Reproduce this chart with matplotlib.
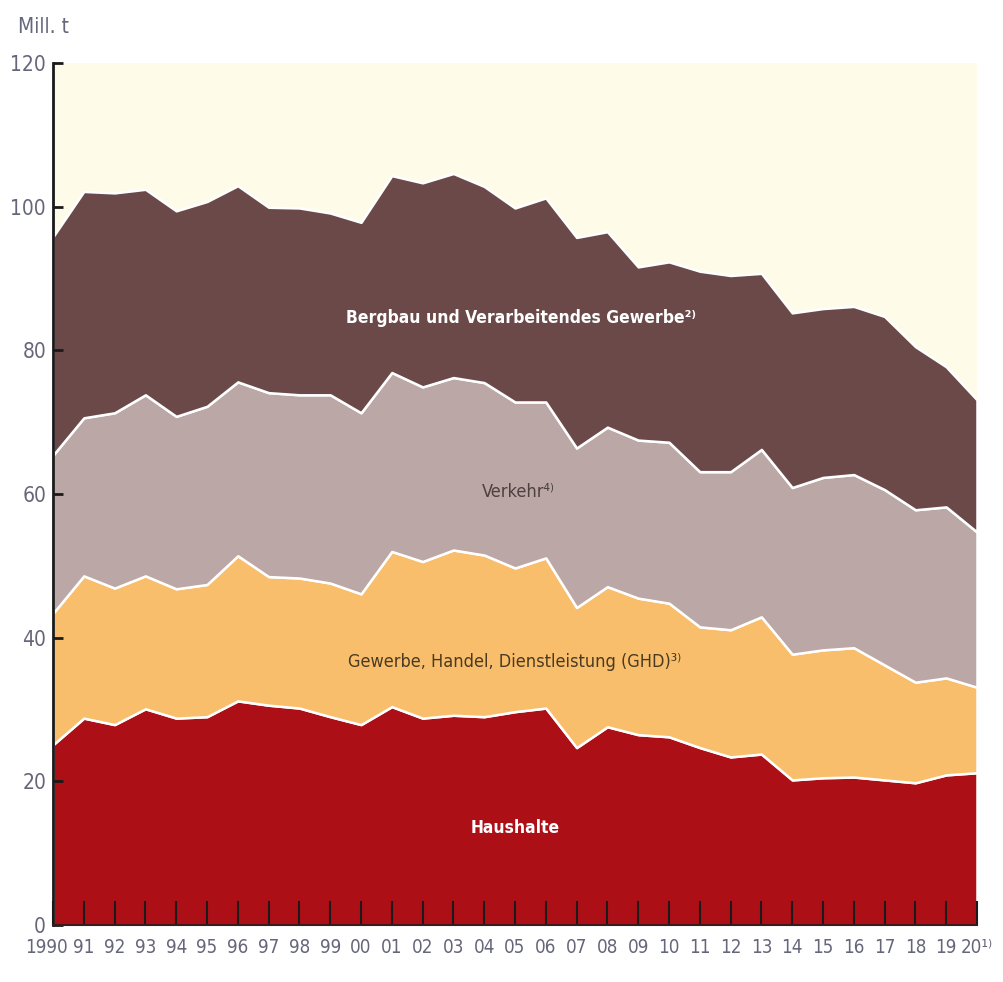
import matplotlib.pyplot as plt
import matplotlib.transforms as mtransforms
import numpy as np

# Jahre 1990 - 2020
years = np.arange(1990, 2021)

# Mill. t je Sektor
haushalte = [25.1, 28.8, 27.9, 30.1, 28.8, 29.0, 31.2, 30.6, 30.2, 29.0, 27.9,
             30.4, 28.8, 29.2, 29.0, 29.7, 30.2, 24.7, 27.6, 26.5, 26.2,
             24.7, 23.4, 23.8, 20.2, 20.5, 20.6, 20.2, 19.8, 20.9, 21.2]
ghd = [18.3, 19.8, 19.0, 18.5, 18.0, 18.4, 20.2, 17.9, 18.1, 18.6, 18.2,
       21.6, 21.8, 23.0, 22.5, 20.0, 20.9, 19.5, 19.5, 19.0, 18.6,
       16.8, 17.7, 19.1, 17.5, 17.8, 18.0, 16.0, 14.0, 13.5, 11.9]
verkehr = [22.0, 22.0, 24.4, 25.2, 24.0, 24.8, 24.2, 25.6, 25.5, 26.2, 25.2,
           24.9, 24.3, 24.0, 24.0, 23.1, 21.7, 22.2, 22.2, 22.0, 22.4,
           21.6, 22.0, 23.3, 23.2, 24.0, 24.1, 24.4, 24.0, 23.8, 21.6]
bergbau = [30.4, 31.5, 30.6, 28.6, 28.6, 28.5, 27.3, 25.8, 26.0, 25.3, 26.5,
           27.4, 28.4, 28.4, 27.3, 27.0, 28.4, 29.3, 27.2, 24.1, 25.1,
           27.9, 27.3, 24.5, 24.3, 23.5, 23.4, 24.1, 22.7, 19.5, 18.4]

xlabels = ['1990'] + [f'{y % 100:02d}' for y in years[1:-1]] + ['20¹⁾']
colors = ['#ad0f17', '#f9be6b', '#bca7a7', '#6b4949']

plt.rcParams['font.family'] = ['DejaVu Sans']
plt.rcParams['font.stretch'] = 'condensed'

fig = plt.figure(figsize=(10.04, 9.82), dpi=100)
ax = fig.add_axes([0.0528, 0.058, 0.9203, 0.878])
ax.set_facecolor('#fefbe9')

ax.stackplot(years, haushalte, ghd, verkehr, bergbau, colors=colors,
             edgecolor='white', linewidth=1.8)

ax.set_xlim(1990, 2020)
ax.set_ylim(0, 120)
ax.set_yticks(np.arange(0, 121, 20))
ax.set_xticks(years)
ax.set_xticklabels(xlabels)

for s in ['top', 'right']:
    ax.spines[s].set_visible(False)
ax.spines['left'].set_linewidth(2)
ax.spines['bottom'].set_linewidth(1.5)
ax.spines['left'].set_color('#1a1a1a')
ax.spines['bottom'].set_color('#3a1a1a')

lab_col = '#66667a'
ax.tick_params(axis='y', direction='in', length=7, width=2, color='#1a1a1a',
               labelsize=15, labelcolor=lab_col, pad=5)
ax.tick_params(axis='x', direction='in', length=17, width=1.5, color='#1a1a1a',
               labelsize=13.5, labelcolor=lab_col, pad=9)

# "1990" etwas nach links schieben, damit es "91" nicht berührt
first = ax.get_xticklabels()[0]
first.set_transform(first.get_transform() +
                    mtransforms.ScaledTranslation(-5 / 72, 0, fig.dpi_scale_trans))

fig.text(0.018, 0.972, 'Mill. t', fontsize=15, color=lab_col, ha='left', va='center')

ax.text(2005.2, 84.5, 'Bergbau und Verarbeitendes Gewerbe²⁾', color='white',
        fontsize=12.5, fontweight='bold', ha='center', va='center')
ax.text(2005.1, 60.3, 'Verkehr⁴⁾', color='#4d4040', fontsize=13,
        ha='center', va='center')
ax.text(2005.0, 36.6, 'Gewerbe, Handel, Dienstleistung (GHD)³⁾', color='#4a3a22',
        fontsize=13, ha='center', va='center')
ax.text(2005.0, 13.5, 'Haushalte', color='white', fontsize=12.5,
        fontweight='bold', ha='center', va='center')

fig.savefig('out.png', dpi=100, facecolor='white')
